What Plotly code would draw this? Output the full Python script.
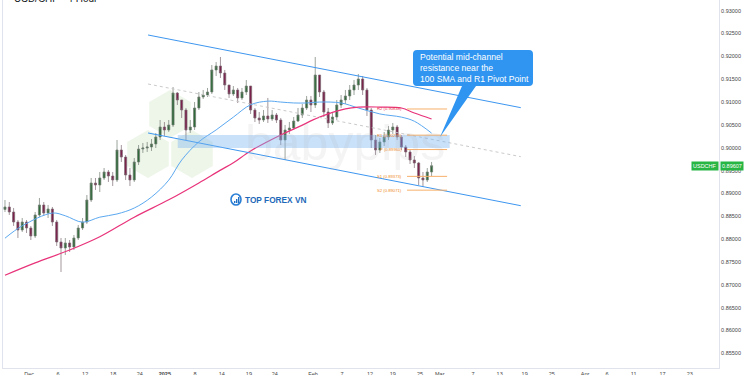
import plotly.graph_objects as go

# ---------------- data ----------------
closes = [0.88703, 0.88593, 0.88374, 0.88199, 0.88374, 0.88243, 0.88068, 0.88528, 0.88747, 0.88571,
          0.88659, 0.88374, 0.87937, 0.87805, 0.87915, 0.87827, 0.88024, 0.88243, 0.88374, 0.88856,
          0.89228, 0.89184, 0.89338, 0.89469, 0.89381, 0.89294, 0.89950, 0.89797, 0.89403, 0.89294,
          0.89688, 0.89972, 0.89994, 0.90016, 0.90082, 0.90235, 0.90454, 0.90388, 0.90498, 0.91198,
          0.91045, 0.90826, 0.90388, 0.90454, 0.90870, 0.91111, 0.91154, 0.91220, 0.91702, 0.91789,
          0.91636, 0.91373, 0.91176, 0.91264, 0.91089, 0.91220, 0.91351, 0.90826, 0.90651, 0.90607,
          0.90695, 0.90629, 0.90717, 0.90607, 0.90169, 0.90388, 0.90432, 0.90585, 0.90717, 0.90870,
          0.91045, 0.90936, 0.91592, 0.91220, 0.90782, 0.90542, 0.90673, 0.90936, 0.91045, 0.91133,
          0.91264, 0.91373, 0.91505, 0.91264, 0.90826, 0.90169, 0.89950, 0.90126, 0.90235, 0.90388,
          0.90454, 0.90235, 0.90016, 0.89907, 0.89732, 0.89666, 0.89338, 0.89294, 0.89469, 0.89607]
highs = [0.88856, 0.88812, 0.88681, 0.88418, 0.88462, 0.88418, 0.88287, 0.88593, 0.88900, 0.88812,
         0.88747, 0.88703, 0.88418, 0.88024, 0.88024, 0.87980, 0.88090, 0.88309, 0.88462, 0.88965,
         0.89338, 0.89338, 0.89469, 0.89556, 0.89513, 0.89469, 0.90169, 0.90060, 0.89841, 0.89556,
         0.89775, 0.90060, 0.90104, 0.90126, 0.90191, 0.90323, 0.90607, 0.90563, 0.90607, 0.91330,
         0.91220, 0.91045, 0.90870, 0.90607, 0.91001, 0.91220, 0.91264, 0.91308, 0.91811, 0.91877,
         0.91986, 0.91702, 0.91373, 0.91351, 0.91308, 0.91308, 0.91483, 0.91308, 0.90870, 0.90782,
         0.90826, 0.91089, 0.90826, 0.90760, 0.90651, 0.90498, 0.90563, 0.90673, 0.90870, 0.90957,
         0.91133, 0.91133, 0.91986, 0.91592, 0.91264, 0.90870, 0.90782, 0.91045, 0.91154, 0.91264,
         0.91373, 0.91483, 0.91614, 0.91570, 0.91308, 0.90870, 0.90279, 0.90213, 0.90345, 0.90476,
         0.90542, 0.90498, 0.90279, 0.90060, 0.89950, 0.89819, 0.89688, 0.89469, 0.89556, 0.89688]
lows = [0.88593, 0.88528, 0.88287, 0.88024, 0.88156, 0.88134, 0.87980, 0.88024, 0.88484, 0.88506,
        0.88462, 0.88287, 0.87849, 0.87280, 0.87652, 0.87718, 0.87761, 0.87980, 0.88199, 0.88331,
        0.88812, 0.89075, 0.89031, 0.89294, 0.89250, 0.89162, 0.89250, 0.89688, 0.89294, 0.89162,
        0.89250, 0.89622, 0.89885, 0.89907, 0.89929, 0.89994, 0.90169, 0.90257, 0.90345, 0.90454,
        0.90936, 0.90651, 0.90169, 0.90323, 0.90388, 0.90826, 0.91067, 0.91111, 0.91176, 0.91570,
        0.91527, 0.91264, 0.91089, 0.91133, 0.90979, 0.91045, 0.91154, 0.90739, 0.90563, 0.90520,
        0.90563, 0.90542, 0.90585, 0.90542, 0.90060, 0.89732, 0.90301, 0.90388, 0.90563, 0.90651,
        0.90826, 0.90782, 0.90870, 0.91111, 0.90673, 0.90432, 0.90498, 0.90607, 0.90870, 0.90957,
        0.91045, 0.91154, 0.91264, 0.91154, 0.90695, 0.89994, 0.89841, 0.89885, 0.90038, 0.90169,
        0.90301, 0.90169, 0.89950, 0.89797, 0.89644, 0.89556, 0.89184, 0.89141, 0.89250, 0.89381]
first_open = 0.88650

sma100_idx = [0, 4, 11, 14, 18, 22, 26, 30, 34, 38, 41, 45, 49, 53, 57, 61, 64, 67, 70, 73, 78, 82, 87, 92, 95, 99]
sma100 = [0.8802, 0.8829, 0.8857, 0.8851, 0.8837, 0.8848, 0.8855, 0.8868, 0.8892, 0.8929, 0.8973, 0.9013,
          0.9039, 0.9067, 0.9094, 0.9102, 0.9100, 0.9098, 0.9098, 0.9100, 0.9098, 0.9087, 0.9074, 0.9067,
          0.9058, 0.9032]
sma200_idx = [0, 7, 15, 22, 30, 38, 45, 50, 53, 57, 64, 68, 73, 79, 82, 87, 92, 95, 99]
sma200 = [0.8721, 0.8748, 0.8776, 0.8805, 0.8848, 0.8886, 0.8923, 0.8951, 0.8967, 0.8993, 0.9028, 0.9045,
          0.9067, 0.9085, 0.9089, 0.9089, 0.9087, 0.9076, 0.9063]

channel_idx = [33.2, 119.7]
channel_upper = [0.92468, 0.90877]
channel_mid = [0.91395, 0.89804]
channel_lower = [0.90323, 0.88731]

zone_idx = [40.1, 103.2]
zone_price = [0.89995, 0.90279]

pivot_names = ["R2", "R1", "P", "S1", "S2"]
pivot_values = [0.90848, 0.90275, 0.89960, 0.89373, 0.89071]
pivot_idx = [93.3, 102.6]

tick_idx = [5.6, 12.3, 18.6, 25.1, 31.3, 37.1, 44.1, 50.3, 56.6, 62.6, 71.5, 78.2, 84.7, 90.0, 96.3,
            100.9, 108.6, 114.8, 120.6, 126.9, 134.6, 139.7, 145.9, 152.6, 158.9]
tick_text = ["Dec", "6", "12", "18", "24", "<b>2025</b>", "8", "14", "19", "24", "Feb", "7", "12", "19", "25",
             "Mar", "7", "13", "19", "25", "Apr", "6", "11", "17", "23"]
price_ticks = [0.855, 0.860, 0.865, 0.870, 0.875, 0.880, 0.885, 0.890, 0.895, 0.900,
               0.905, 0.910, 0.915, 0.920, 0.925, 0.930]
last_price = 0.89607
symbol = "USDCHF"

# ---------------- build ----------------
opens = [first_open] + closes[:-1]
highs_c = [max(h, o, c) for h, o, c in zip(highs, opens, closes)]
lows_c = [min(l, o, c) for l, o, c in zip(lows, opens, closes)]
idx = list(range(len(closes)))

W, H = 750, 375
ML, MR, MT, MB = 3, 31, 0, 7
PW, PH = W - ML - MR, H - MT - MB
Y0, Y1 = 0.85178, 0.93234


def px(x):
    return (x - ML) / PW


def py(y):
    return 1 - (y - MT) / PH


FONT = "Liberation Sans, Arial, sans-serif"
fig = go.Figure()

# watermark hexagons
shapes = []
for cx, cy in [(170, 114), (148, 154), (192, 154)]:
    r = 24
    pts = [(cx, cy - r), (cx + 0.866 * r, cy - r / 2), (cx + 0.866 * r, cy + r / 2),
           (cx, cy + r), (cx - 0.866 * r, cy + r / 2), (cx - 0.866 * r, cy - r / 2)]
    path = "M " + " L ".join(f"{px(a):.5f},{py(b):.5f}" for a, b in pts) + " Z"
    shapes.append(dict(type="path", xref="paper", yref="paper", path=path,
                       fillcolor="#eef6ea", line=dict(width=0), layer="below"))

fig.add_trace(go.Candlestick(
    x=idx, open=opens, high=highs_c, low=lows_c, close=closes,
    increasing=dict(line=dict(color="#727d72", width=0.7), fillcolor="#2f6b3a"),
    decreasing=dict(line=dict(color="#7c6a72", width=0.7), fillcolor="#7a1f4a"),
    whiskerwidth=0, showlegend=False, hoverinfo="skip"))

fig.add_trace(go.Scatter(x=sma100_idx, y=sma100, mode="lines", line=dict(color="#5ba8f0", width=1, shape="spline"),
                         showlegend=False, hoverinfo="skip"))
fig.add_trace(go.Scatter(x=sma200_idx, y=sma200, mode="lines", line=dict(color="#e8337a", width=1.2, shape="spline"),
                         showlegend=False, hoverinfo="skip"))

# channel
for ys, col, dash, wd in [(channel_upper, "#3d96f0", "solid", 1), (channel_lower, "#3d96f0", "solid", 1),
                          (channel_mid, "#c4c4c4", "dot", 0.9)]:
    fig.add_trace(go.Scatter(x=channel_idx, y=ys, mode="lines", line=dict(color=col, width=wd, dash=dash),
                             showlegend=False, hoverinfo="skip"))

# zone
shapes.append(dict(type="rect", xref="x", yref="y", x0=zone_idx[0], x1=zone_idx[1],
                   y0=zone_price[0], y1=zone_price[1], fillcolor="rgba(120,180,240,0.4)",
                   line=dict(width=0), layer="above"))

annotations = []
# pivots
for name, v in zip(pivot_names, pivot_values):
    shapes.append(dict(type="line", xref="x", yref="y", x0=pivot_idx[0], x1=pivot_idx[1], y0=v, y1=v,
                       line=dict(color="#f7b06a", width=1)))
    annotations.append(dict(x=pivot_idx[0] - 0.8, y=v, xref="x", yref="y", text=f"{name} ({v:.5f})",
                            showarrow=False, xanchor="right", yanchor="middle",
                            font=dict(size=4.2, color="#e8334f" if name == "R2" else "#f08a24", family=FONT)))

# callout box with pointer
bx0, bx1, by0, by1, rr = 413, 533, 50, 86, 4
box = (f"M {px(bx0 + rr)},{py(by0)} L {px(bx1 - rr)},{py(by0)} Q {px(bx1)},{py(by0)} {px(bx1)},{py(by0 + rr)} "
       f"L {px(bx1)},{py(by1 - rr)} Q {px(bx1)},{py(by1)} {px(bx1 - rr)},{py(by1)} "
       f"L {px(476)},{py(by1)} L {px(440)},{py(137)} L {px(462)},{py(by1)} "
       f"L {px(bx0 + rr)},{py(by1)} Q {px(bx0)},{py(by1)} {px(bx0)},{py(by1 - rr)} "
       f"L {px(bx0)},{py(by0 + rr)} Q {px(bx0)},{py(by0)} {px(bx0 + rr)},{py(by0)} Z")
shapes.append(dict(type="path", xref="paper", yref="paper", path=box, fillcolor="#2f95f0",
                   line=dict(width=0), layer="above"))
annotations.append(dict(x=px(418), y=py(68), xref="paper", yref="paper", xanchor="left", yanchor="middle",
                        text="Potential mid-channel<br>resistance near the<br>100 SMA and R1 Pivot Point",
                        align="left", showarrow=False, font=dict(size=8.6, color="white", family=FONT)))

# watermark text
annotations.append(dict(x=px(345), y=py(143), xref="paper", yref="paper", text="babypips", showarrow=False,
                        font=dict(size=50, color="rgba(170,170,175,0.13)", family=FONT)))

# logo
shapes.append(dict(type="circle", xref="paper", yref="paper", x0=px(231), x1=px(241), y0=py(205), y1=py(194),
                   line=dict(color="#2b7fd6", width=1.6), fillcolor="rgba(0,0,0,0)"))
for bxl, top in [(234, 201), (236, 199), (238, 197)]:
    shapes.append(dict(type="rect", xref="paper", yref="paper", x0=px(bxl), x1=px(bxl + 1.4),
                       y0=py(203), y1=py(top), fillcolor="#1f6fc4", line=dict(width=0)))
annotations.append(dict(x=px(243), y=py(200), xref="paper", yref="paper", xanchor="left", yanchor="middle",
                        text="<b>TOP FOREX VN</b>", showarrow=False,
                        font=dict(size=8.3, color="#1d68b8", family=FONT)))

# title (cut at top)
annotations.append(dict(x=px(12), y=py(6), xref="paper", yref="paper", xanchor="left", yanchor="bottom",
                        text="USD/CHF · 4 Hour", showarrow=False, font=dict(size=10, color="#131722", family=FONT)))

# last price tag
annotations.append(dict(x=1.0, y=last_price, xref="paper", yref="y", xanchor="right", yanchor="middle",
                        text=symbol, showarrow=False, bgcolor="#27b544", borderpad=1,
                        font=dict(size=5.5, color="white", family=FONT)))
annotations.append(dict(x=1.0, y=last_price, xref="paper", yref="y", xanchor="left", yanchor="middle",
                        text=f"{last_price:.5f}", showarrow=False, bgcolor="#27b544", borderpad=1, xshift=1,
                        font=dict(size=5.5, color="white", family=FONT)))

fig.update_layout(
    width=W, height=H, margin=dict(l=ML, r=MR, t=MT, b=MB, autoexpand=False),
    paper_bgcolor="white", plot_bgcolor="white",
    shapes=shapes, annotations=annotations,
    xaxis=dict(range=[-0.46, 165.7], tickvals=tick_idx, ticktext=tick_text, showgrid=False, zeroline=False,
               rangeslider=dict(visible=False), showline=True, linecolor="#e0e3eb", linewidth=1,
               ticks="", automargin=False, tickfont=dict(size=5.5, color="#444", family=FONT)),
    yaxis=dict(range=[Y0, Y1], side="right", tickvals=price_ticks,
               ticktext=[f"{v:.5f}" for v in price_ticks], showgrid=False, zeroline=False,
               showline=True, mirror=True, linecolor="#e0e3eb", linewidth=1, ticks="", automargin=False,
               tickfont=dict(size=5.5, color="#444", family=FONT)),
)

fig.write_html("out.html", config={"displayModeBar": False},
               post_script="document.body.style.margin='0';document.body.style.overflow='hidden';")
